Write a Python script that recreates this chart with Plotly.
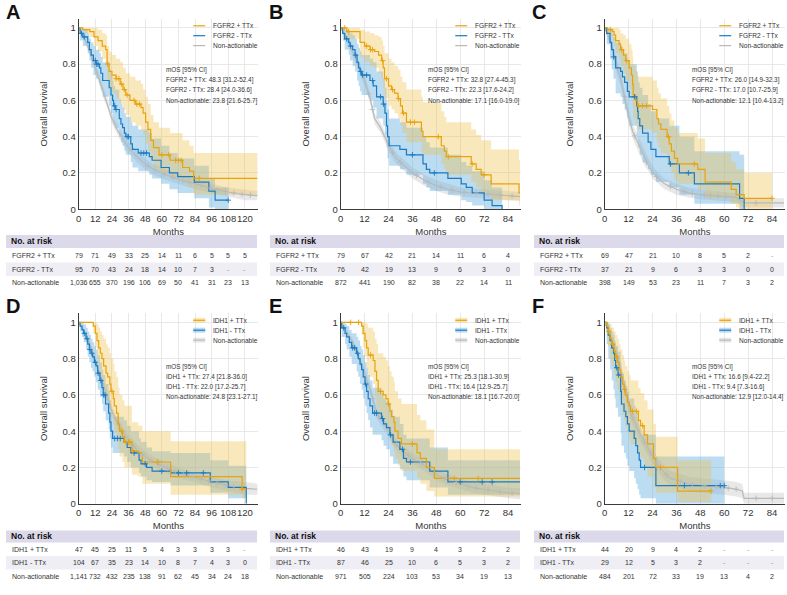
import numpy as np
import plotly.graph_objects as go

FONT = "Liberation Sans, Arial, Helvetica, sans-serif"
W, H = 787, 595

# ---------------- tick / risk-table months ----------------
MONTHS_LONG = [0, 12, 24, 36, 48, 60, 72, 84, 96, 108, 120]
MONTHS_SHORT = [0, 12, 24, 36, 48, 60, 72, 84]

# ---------------- Panel A (FGFR2, cohort 1) ----------------
A_POS_T = [0, 3, 8, 11, 14, 17, 19.5, 20.5, 22, 24, 27, 30, 32, 34, 37, 41, 45, 46.5, 48.3, 50, 52, 54, 58, 66, 75, 80, 83, 129]
A_POS_S = [1, .99, .98, .95, .93, .90, .88, .80, .76, .74, .72, .69, .66, .63, .60, .58, .56, .53, .48, .44, .38, .34, .30, .27, .23, .21, .17, .17]
A_POS_LO = [1, .97, .95, .90, .87, .83, .80, .71, .67, .64, .61, .58, .55, .52, .48, .46, .44, .41, .36, .32, .27, .23, .20, .17, .14, .12, .08, .08]
A_POS_HI = [1, 1, 1, 1, .99, .97, .96, .90, .87, .85, .83, .81, .78, .75, .73, .71, .69, .66, .62, .58, .52, .48, .45, .42, .38, .35, .31, .31]
A_POS_C = [21, 27, 29, 31, 33, 35, 40, 42, 44, 60, 65, 70, 72, 74, 87]

A_NEG_T = [0, 1, 3, 6.5, 7.7, 9, 10.6, 12.5, 15, 16, 17.3, 22, 23.3, 24.5, 25.2, 26.4, 29.3, 30.5, 31.7, 33, 34, 37.6, 38.8, 43, 51, 53, 59.5, 65.5, 71.5, 83.5, 94, 98.5, 108]
A_NEG_S = [1, .97, .95, .92, .88, .85, .82, .80, .78, .75, .71, .67, .63, .60, .57, .55, .50, .47, .45, .42, .40, .36, .33, .31, .29, .27, .23, .20, .18, .15, .10, .05, .05]
A_NEG_LO = [1, .93, .90, .86, .82, .78, .74, .72, .69, .66, .62, .57, .53, .50, .47, .45, .40, .37, .35, .32, .30, .26, .23, .21, .19, .17, .14, .11, .09, .06, .01, 0, 0]
A_NEG_HI = [1, 1, .99, .97, .94, .92, .90, .88, .86, .84, .81, .77, .74, .71, .68, .66, .61, .58, .56, .53, .51, .48, .46, .44, .42, .39, .35, .31, .28, .24, .17, .12, .12]
A_NEG_C = [2, 4, 12, 13, 14, 26, 27, 35, 36, 45, 47, 49, 108]

A_NA_T = [0, 3, 6, 9, 12, 15, 18, 21, 24, 27, 30, 36, 42, 48, 54, 60, 72, 84, 96, 108, 120, 129]
A_NA_S = [1, .96, .91, .85, .78, .71, .64, .58, .50, .45, .41, .34, .29, .25, .22, .20, .165, .14, .115, .095, .08, .075]
A_NA_LO = [1, .95, .89, .83, .75, .68, .61, .55, .47, .42, .38, .31, .26, .22, .19, .17, .14, .11, .09, .07, .05, .05]
A_NA_HI = [1, .97, .93, .87, .80, .74, .67, .61, .53, .48, .44, .37, .32, .28, .25, .23, .19, .17, .14, .12, .11, .10]
A_NA_C = [50, 55, 62, 68, 75, 80, 88, 95, 100, 106, 112, 118, 124]

A_RISK_POS = ["79", "71", "49", "33", "25", "14", "11", "6", "5", "5", "5"]
A_RISK_NEG = ["95", "70", "43", "24", "18", "14", "10", "7", "3", "-", "-"]
A_RISK_NA = ["1,036", "655", "370", "196", "106", "69", "50", "41", "31", "23", "13"]
A_MOS = ["mOS [95% CI]", "FGFR2 + TTx: 48.3 [31.2-52.4]", "FGFR2 - TTx: 28.4 [24.0-36.6]", "Non-actionable: 23.8 [21.6-25.7]"]

# ---------------- Panel B ----------------
B_POS_T = [0, 3, 9.7, 12, 14.7, 17, 19, 20.5, 21.3, 22, 24, 25.5, 27, 28.8, 30, 31, 33, 40.5, 41.3, 50.5, 52, 53, 65.5, 68, 70.5, 75.5, 89.5, 90]
B_POS_S = [1, .98, .92, .90, .88, .87, .85, .82, .78, .72, .68, .66, .64, .61, .57, .53, .48, .43, .40, .35, .32, .29, .25, .22, .19, .14, .09, .09]
B_POS_LO = [1, .94, .84, .81, .79, .78, .75, .72, .67, .61, .57, .55, .53, .50, .46, .42, .37, .32, .30, .25, .22, .19, .15, .12, .09, .05, .02, .02]
B_POS_HI = [1, 1, .99, .98, .97, .96, .95, .93, .90, .86, .83, .81, .79, .77, .73, .70, .66, .62, .59, .54, .51, .48, .44, .41, .38, .33, .27, .27]
B_POS_C = [2, 4, 13, 15, 16, 21, 23, 26, 29, 31.5, 35, 37, 49, 54, 66, 72]

B_NEG_T = [0, 1, 2, 4, 4.7, 6, 7.2, 8.2, 9, 9.7, 10.5, 14.7, 16.3, 18, 21.3, 22.2, 23, 23.5, 24.3, 29.7, 33, 41.3, 43, 44.7, 53.8, 60.5, 63, 66, 72, 76, 81]
B_NEG_S = [1, .97, .94, .92, .90, .88, .85, .81, .78, .76, .74, .71, .68, .62, .58, .53, .46, .40, .35, .33, .30, .25, .22, .20, .17, .14, .12, .09, .05, .02, 0]
B_NEG_LO = [1, .93, .88, .85, .82, .79, .76, .71, .68, .65, .63, .60, .56, .50, .46, .41, .34, .28, .24, .22, .19, .14, .12, .10, .08, .05, .04, .02, 0, 0, 0]
B_NEG_HI = [1, 1, .99, .98, .97, .96, .94, .91, .89, .87, .85, .83, .81, .76, .72, .67, .60, .55, .50, .48, .45, .40, .37, .34, .30, .26, .24, .21, .16, .12, .12]
B_NEG_C = [3, 5, 7.5, 10, 11, 13, 16, 20, 21.5, 36, 47]

B_NA_T = [0, 3, 6, 9, 12, 15, 17, 20, 22, 25, 28, 32, 36, 42, 48, 54, 60, 72, 84, 90]
B_NA_S = [1, .94, .87, .79, .71, .60, .50, .45, .40, .33, .28, .24, .20, .16, .13, .11, .095, .085, .075, .07]
B_NA_LO = [1, .92, .85, .76, .68, .57, .47, .42, .37, .30, .25, .21, .17, .13, .10, .08, .07, .06, .05, .045]
B_NA_HI = [1, .96, .89, .82, .74, .63, .53, .48, .43, .36, .31, .27, .23, .19, .16, .14, .12, .11, .10, .095]
B_NA_C = [14, 16, 26, 30, 38, 44, 50, 56, 62, 68, 74, 80, 86]

B_RISK_POS = ["79", "67", "42", "21", "14", "11", "6", "4"]
B_RISK_NEG = ["76", "42", "19", "13", "9", "6", "3", "0"]
B_RISK_NA = ["872", "441", "190", "82", "38", "22", "14", "11"]
B_MOS = ["mOS [95% CI]", "FGFR2 + TTx: 32.8 [27.4-45.3]", "FGFR2 - TTx: 22.3 [17.6-24.2]", "Non-actionable: 17.1 [16.0-19.0]"]

# ---------------- Panel C ----------------
C_POS_T = [0, 1.5, 3.9, 4.7, 5.5, 7.2, 8, 9.4, 10.6, 12.3, 13.4, 14, 14.3, 15.5, 16.5, 24, 26.2, 27, 28.2, 31.3, 32.4, 33.5, 35, 36.6, 46.7, 50.4, 63.5, 66, 70, 84]
C_POS_S = [1, .99, .98, .96, .93, .91, .88, .85, .82, .78, .74, .69, .63, .60, .57, .55, .50, .47, .44, .40, .36, .32, .28, .25, .22, .15, .11, .08, .06, .06]
C_POS_LO = [1, .96, .93, .90, .86, .83, .79, .75, .71, .66, .61, .56, .50, .47, .44, .42, .37, .34, .31, .27, .23, .20, .16, .14, .11, .06, .03, .01, 0, 0]
C_POS_HI = [1, 1, 1, 1, 1, .99, .97, .96, .94, .91, .88, .84, .79, .76, .73, .71, .67, .64, .61, .57, .53, .49, .45, .42, .39, .31, .26, .22, .20, .20]
C_POS_C = [3, 8.5, 11, 17, 19, 21, 32, 45, 84]

C_NEG_T = [0, 1, 2.7, 3.5, 4.4, 5.5, 8, 8.9, 10, 11.4, 12.3, 16.1, 16.5, 16.8, 17.6, 19, 21.8, 23.2, 25.7, 32.4, 37.5, 45, 67.7, 70]
C_NEG_S = [1, .97, .92, .88, .84, .78, .76, .73, .70, .65, .62, .57, .54, .50, .46, .42, .37, .33, .29, .25, .20, .14, .06, 0]
C_NEG_LO = [1, .91, .83, .77, .72, .64, .62, .58, .55, .50, .46, .41, .38, .34, .30, .26, .22, .19, .15, .12, .08, .03, 0, 0]
C_NEG_HI = [1, 1, .99, .97, .95, .92, .90, .88, .86, .82, .80, .76, .74, .70, .67, .63, .58, .54, .50, .46, .40, .32, .30, .30]
C_NEG_C = [4.5, 15, 33, 42]

C_NA_T = [0, 2, 4, 6, 8, 10, 12, 14, 16, 18, 20, 22, 24, 27, 30, 36, 42, 48, 54, 60, 66, 70, 90]
C_NA_S = [1, .95, .88, .79, .72, .62, .51, .43, .38, .33, .28, .24, .20, .17, .14, .11, .09, .08, .075, .07, .065, .035, .035]
C_NA_LO = [1, .93, .85, .75, .68, .58, .47, .39, .34, .29, .24, .21, .17, .14, .11, .08, .065, .055, .05, .045, .04, .01, .01]
C_NA_HI = [1, .97, .91, .83, .76, .66, .55, .47, .42, .37, .32, .28, .24, .20, .17, .14, .12, .11, .10, .095, .09, .06, .06]
C_NA_C = [10, 15, 21, 26, 33, 40, 44, 50, 53, 57, 61, 76]

C_RISK_POS = ["69", "47", "21", "10", "8", "5", "2", "-"]
C_RISK_NEG = ["37", "21", "9", "6", "3", "3", "0", "0"]
C_RISK_NA = ["398", "149", "53", "23", "11", "7", "3", "2"]
C_MOS = ["mOS [95% CI]", "FGFR2 + TTx: 26.0 [14.9-32.3]", "FGFR2 - TTx: 17.0 [10.7-25.9]", "Non-actionable: 12.1 [10.4-13.2]"]

# ---------------- Panel D (IDH1) ----------------
D_POS_T = [0, 10.5, 12, 13.2, 14.4, 15.6, 16.8, 18, 19.7, 20.9, 22.5, 23.3, 25, 25.7, 27.3, 28.5, 29.5, 31.6, 33, 38.4, 43, 46, 66.4, 118, 121]
D_POS_S = [1, .98, .94, .90, .86, .83, .80, .76, .72, .70, .66, .62, .58, .54, .50, .44, .40, .37, .34, .29, .28, .23, .15, .08, .08]
D_POS_LO = [1, .94, .86, .80, .75, .71, .67, .62, .58, .55, .51, .47, .43, .39, .35, .30, .26, .23, .20, .16, .15, .11, .05, .03, .03]
D_POS_HI = [1, 1, 1, .99, .97, .95, .93, .91, .88, .86, .83, .80, .77, .73, .70, .64, .60, .57, .54, .45, .43, .40, .345, .345, .345]
D_POS_C = [24, 31, 34, 36, 37, 39, 57, 118]

D_NEG_T = [0, 1, 2.4, 3.6, 5.3, 6.5, 7.7, 8.9, 10, 11.3, 12.5, 13.7, 15.3, 16.8, 17.7, 19.4, 21.6, 22.5, 23.3, 24.5, 32.8, 35, 37.6, 43.6, 45, 49, 53, 66.4, 95, 108, 121]
D_NEG_S = [1, .98, .96, .94, .91, .88, .85, .83, .81, .78, .76, .72, .68, .64, .60, .55, .50, .45, .40, .36, .34, .31, .28, .24, .22, .20, .18, .17, .12, .09, 0]
D_NEG_LO = [1, .95, .92, .89, .85, .81, .78, .75, .73, .70, .67, .63, .59, .55, .51, .46, .41, .36, .31, .28, .26, .23, .20, .17, .15, .13, .12, .10, .06, .03, .03]
D_NEG_HI = [1, 1, 1, .99, .97, .95, .93, .91, .89, .87, .85, .82, .78, .74, .71, .66, .62, .57, .52, .48, .46, .43, .40, .36, .34, .31, .29, .28, .24, .21, .21]
D_NEG_C = [4, 6, 8, 9.5, 12, 14, 16, 18, 19, 26, 28, 30, 40, 48, 60, 72, 78, 90]

D_NA_T = [0, 3, 6, 9, 12, 15, 18, 21, 24, 27, 30, 36, 42, 48, 54, 60, 72, 84, 96, 108, 120, 129]
D_NA_S = [1, .96, .92, .86, .79, .72, .64, .58, .51, .46, .42, .35, .30, .26, .23, .21, .17, .145, .12, .10, .085, .08]
D_NA_LO = [1, .95, .90, .84, .77, .69, .61, .55, .48, .43, .39, .32, .27, .23, .20, .18, .14, .12, .09, .07, .05, .05]
D_NA_HI = [1, .97, .94, .88, .81, .75, .67, .61, .54, .49, .45, .38, .33, .29, .26, .24, .20, .17, .15, .13, .12, .11]
D_NA_C = [40, 46, 52, 58, 64, 70, 76, 82, 88, 94, 100, 106, 112]

D_RISK_POS = ["47", "45", "25", "11", "5", "4", "3", "3", "3", "3", "-"]
D_RISK_NEG = ["104", "67", "35", "23", "14", "10", "8", "7", "4", "3", "0"]
D_RISK_NA = ["1,141", "732", "432", "235", "138", "91", "62", "45", "34", "24", "18"]
D_MOS = ["mOS [95% CI]", "IDH1 + TTx: 27.4 [21.8-36.0]", "IDH1 - TTx: 22.0 [17.2-25.7]", "Non-actionable: 24.8 [23.1-27.1]"]

# ---------------- Panel E ----------------
E_POS_T = [0, 10.5, 11.3, 12.2, 13, 13.8, 16.3, 17.2, 18, 18.8, 21.3, 22.7, 23.8, 24.7, 25.5, 26.7, 27.2, 28.8, 30.5, 38.3, 40, 43, 47, 90]
E_POS_S = [1, .98, .94, .90, .86, .82, .79, .73, .68, .62, .60, .58, .55, .51, .48, .45, .40, .36, .33, .28, .25, .20, .14, .14]
E_POS_LO = [1, .93, .86, .81, .75, .70, .66, .59, .53, .47, .45, .42, .39, .35, .32, .29, .25, .21, .18, .14, .11, .07, .04, .04]
E_POS_HI = [1, 1, 1, 1, .99, .97, .95, .91, .88, .83, .81, .79, .76, .73, .70, .67, .62, .58, .55, .49, .46, .41, .30, .30]
E_POS_C = [5, 9, 15, 20, 24, 36, 57, 69]

E_NEG_T = [0, 0.5, 2.2, 3, 4.3, 5.5, 8, 8.8, 9.7, 10.5, 11.3, 12.2, 13, 13.8, 14.7, 16, 20.5, 21.5, 23, 24.7, 26.3, 29.7, 31.5, 33, 44.7, 53.8, 90]
E_NEG_S = [1, .97, .94, .92, .89, .86, .83, .80, .77, .74, .70, .66, .62, .58, .54, .50, .47, .44, .42, .38, .34, .30, .25, .23, .18, .12, .12]
E_NEG_LO = [1, .92, .88, .85, .81, .77, .73, .70, .66, .63, .58, .54, .50, .46, .42, .38, .35, .32, .30, .26, .22, .19, .15, .13, .09, .05, .05]
E_NEG_HI = [1, 1, .99, .98, .96, .94, .92, .90, .87, .85, .82, .78, .75, .71, .68, .64, .61, .58, .56, .52, .48, .44, .38, .36, .31, .24, .24]
E_NEG_C = [1.5, 6, 7, 8.5, 12.5, 17, 18, 21, 25, 31, 35, 60, 71, 76]

E_NA_T = [0, 3, 6, 9, 12, 15, 18, 21, 24, 27, 30, 36, 42, 48, 54, 60, 66, 72, 78, 84, 90]
E_NA_S = [1, .95, .89, .81, .72, .62, .50, .45, .40, .34, .30, .25, .21, .16, .13, .11, .09, .08, .07, .06, .055]
E_NA_LO = [1, .94, .87, .79, .69, .59, .47, .42, .37, .31, .27, .22, .18, .13, .10, .08, .06, .05, .04, .03, .025]
E_NA_HI = [1, .96, .91, .83, .75, .65, .53, .48, .43, .37, .33, .28, .24, .19, .16, .14, .12, .11, .10, .09, .085]
E_NA_C = [16, 19, 28, 34, 40, 52, 58, 64, 68, 74, 80, 86]

E_RISK_POS = ["46", "43", "19", "9", "4", "3", "2", "2"]
E_RISK_NEG = ["87", "46", "25", "10", "6", "5", "3", "2"]
E_RISK_NA = ["971", "505", "224", "103", "53", "34", "19", "13"]
E_MOS = ["mOS [95% CI]", "IDH1 + TTx: 25.3 [18.1-30.9]", "IDH1 - TTx: 16.4 [12.9-25.7]", "Non-actionable: 18.1 [16.7-20.0]"]

# ---------------- Panel F ----------------
F_POS_T = [0, 1, 1.7, 2.7, 3.5, 4.7, 5.5, 6.4, 7.2, 8, 8.9, 9.7, 10.3, 11.4, 12.3, 13, 16.9, 18, 19.8, 21.5, 24.5, 25.7, 36.6, 53.4]
F_POS_S = [1, .98, .95, .91, .88, .84, .81, .78, .74, .70, .66, .63, .60, .56, .54, .51, .46, .43, .38, .33, .25, .20, .07, .07]
F_POS_LO = [1, .92, .87, .80, .76, .71, .67, .63, .58, .54, .49, .46, .43, .39, .36, .33, .28, .25, .20, .15, .09, .06, .01, .01]
F_POS_HI = [1, 1, 1, .99, .97, .95, .93, .91, .88, .85, .82, .79, .76, .73, .71, .68, .64, .61, .57, .52, .44, .37, .24, .24]
F_POS_C = [2, 4, 6, 10, 14, 16, 19, 28, 53.4]

F_NEG_T = [0, 1, 1.8, 2.7, 3.5, 4.4, 5, 5.5, 6.7, 8, 8.4, 9.7, 10.6, 11.4, 12.3, 14.8, 15.6, 16.5, 17.3, 18, 25.7, 60]
F_NEG_S = [1, .97, .93, .90, .86, .83, .79, .75, .71, .62, .55, .51, .48, .44, .40, .36, .32, .28, .24, .20, .10, .10]
F_NEG_LO = [1, .88, .80, .74, .68, .63, .58, .53, .48, .39, .32, .28, .25, .21, .18, .14, .11, .08, .05, .03, 0, 0]
F_NEG_HI = [1, 1, .99, .97, .95, .93, .90, .87, .84, .78, .72, .68, .65, .62, .58, .54, .50, .46, .42, .38, .26, .26]
F_NEG_C = [6, 7, 20, 40, 58, 60]

F_NA_T = [0, 2, 4, 6, 8, 10, 12, 13, 15, 18, 21, 24, 27, 30, 33, 36, 42, 48, 54, 60, 66, 69, 70, 90]
F_NA_S = [1, .95, .89, .82, .74, .65, .55, .50, .45, .38, .32, .26, .21, .17, .14, .13, .11, .10, .095, .09, .08, .07, .03, .03]
F_NA_LO = [1, .93, .86, .78, .70, .61, .51, .46, .41, .34, .28, .22, .17, .13, .10, .09, .07, .06, .055, .05, .04, .03, 0, 0]
F_NA_HI = [1, .97, .92, .86, .78, .69, .59, .54, .49, .42, .36, .30, .25, .21, .18, .17, .15, .14, .135, .13, .12, .11, .06, .06]
F_NA_C = [14, 20, 23, 26, 31, 38, 44, 50, 56, 62, 66, 76, 84]

F_RISK_POS = ["44", "20", "9", "4", "2", "-", "-", "-"]
F_RISK_NEG = ["29", "12", "5", "3", "2", "-", "-", "-"]
F_RISK_NA = ["484", "201", "72", "33", "19", "13", "4", "2"]
F_MOS = ["mOS [95% CI]", "IDH1 + TTx: 16.6 [9.4-22.2]", "IDH1 - TTx: 9.4 [7.3-16.6]", "Non-actionable: 12.9 [12.0-14.4]"]

FGFR_LABELS = ["FGFR2 + TTx", "FGFR2 - TTx", "Non-actionable"]
IDH_LABELS = ["IDH1 + TTx", "IDH1 - TTx", "Non-actionable"]
PANEL_LETTERS = ["A", "B", "C", "D", "E", "F"]

# ---------------- styling ----------------
ORANGE = "#E8A20C"
BLUE = "#1A7BC2"
GRAY = "#B9B9B9"
ORANGE_FILL = "rgba(242,190,72,0.36)"
BLUE_FILL = "rgba(96,172,224,0.42)"
GRAY_FILL = "rgba(180,180,180,0.30)"
TXT = "#333333"
GRID = "#E8E8E8"

PL = [76, 339, 604]
PR = [256, 520, 785]
PT = [19, 316]
PB = [211, 508]
ROW_OFF = [0, 297]

panels = [
    dict(xmax=129.5, months=MONTHS_LONG, labels=FGFR_LABELS, mos=A_MOS, band_legend=False,
         curves=[(A_NA_T, A_NA_S, A_NA_LO, A_NA_HI, A_NA_C), (A_NEG_T, A_NEG_S, A_NEG_LO, A_NEG_HI, A_NEG_C), (A_POS_T, A_POS_S, A_POS_LO, A_POS_HI, A_POS_C)],
         risk=[A_RISK_POS, A_RISK_NEG, A_RISK_NA]),
    dict(xmax=90.5, months=MONTHS_SHORT, labels=FGFR_LABELS, mos=B_MOS, band_legend=False,
         curves=[(B_NA_T, B_NA_S, B_NA_LO, B_NA_HI, B_NA_C), (B_NEG_T, B_NEG_S, B_NEG_LO, B_NEG_HI, B_NEG_C), (B_POS_T, B_POS_S, B_POS_LO, B_POS_HI, B_POS_C)],
         risk=[B_RISK_POS, B_RISK_NEG, B_RISK_NA]),
    dict(xmax=90.5, months=MONTHS_SHORT, labels=FGFR_LABELS, mos=C_MOS, band_legend=False,
         curves=[(C_NA_T, C_NA_S, C_NA_LO, C_NA_HI, C_NA_C), (C_NEG_T, C_NEG_S, C_NEG_LO, C_NEG_HI, C_NEG_C), (C_POS_T, C_POS_S, C_POS_LO, C_POS_HI, C_POS_C)],
         risk=[C_RISK_POS, C_RISK_NEG, C_RISK_NA]),
    dict(xmax=129.5, months=MONTHS_LONG, labels=IDH_LABELS, mos=D_MOS, band_legend=True,
         curves=[(D_NA_T, D_NA_S, D_NA_LO, D_NA_HI, D_NA_C), (D_NEG_T, D_NEG_S, D_NEG_LO, D_NEG_HI, D_NEG_C), (D_POS_T, D_POS_S, D_POS_LO, D_POS_HI, D_POS_C)],
         risk=[D_RISK_POS, D_RISK_NEG, D_RISK_NA]),
    dict(xmax=90.5, months=MONTHS_SHORT, labels=IDH_LABELS, mos=E_MOS, band_legend=True,
         curves=[(E_NA_T, E_NA_S, E_NA_LO, E_NA_HI, E_NA_C), (E_NEG_T, E_NEG_S, E_NEG_LO, E_NEG_HI, E_NEG_C), (E_POS_T, E_POS_S, E_POS_LO, E_POS_HI, E_POS_C)],
         risk=[E_RISK_POS, E_RISK_NEG, E_RISK_NA]),
    dict(xmax=90.5, months=MONTHS_SHORT, labels=IDH_LABELS, mos=F_MOS, band_legend=True,
         curves=[(F_NA_T, F_NA_S, F_NA_LO, F_NA_HI, F_NA_C), (F_NEG_T, F_NEG_S, F_NEG_LO, F_NEG_HI, F_NEG_C), (F_POS_T, F_POS_S, F_POS_LO, F_POS_HI, F_POS_C)],
         risk=[F_RISK_POS, F_RISK_NEG, F_RISK_NA]),
]

# order of curves inside each panel: gray, blue, orange
LINE_COLORS = [GRAY, BLUE, ORANGE]
FILL_COLORS = [GRAY_FILL, BLUE_FILL, ORANGE_FILL]
SHAPES_LINE = ["linear", "hv", "hv"]
LEGEND_ORDER = [2, 1, 0]  # legend rows: +TTx, -TTx, non-actionable


def px(x):
    return x / W


def py(y):
    return 1 - y / H


def value_at(t, s, q, shape):
    t = np.asarray(t, float)
    s = np.asarray(s, float)
    if shape == "linear":
        return np.interp(q, t, s)
    idx = np.searchsorted(t, q, side="right") - 1
    idx = np.clip(idx, 0, len(s) - 1)
    return s[idx]


fig = go.Figure()
layout_axes = {}
annotations = []
shapes = []

for i, p in enumerate(panels):
    r, c = divmod(i, 3)
    off = ROW_OFF[r]
    n = "" if i == 0 else str(i + 1)
    xa, ya = "x" + n, "y" + n

    layout_axes["xaxis" + n] = dict(
        domain=[px(PL[c]), px(PR[c])], range=[0, p["xmax"]], anchor=ya,
        tickmode="array", tickvals=p["months"], ticks="", tickangle=0, showline=True,
        linecolor="#3a3a3a", linewidth=1, showgrid=True, gridcolor=GRID, gridwidth=1,
        zeroline=False, tickfont=dict(size=9.5, color=TXT, family=FONT),
        title=dict(text="Months", font=dict(size=9.5, color=TXT, family=FONT), standoff=5),
    )
    layout_axes["yaxis" + n] = dict(
        domain=[py(PB[r]), py(PT[r])], range=[0, 1.05], anchor=xa,
        tickmode="array", tickvals=[0, 0.2, 0.4, 0.6, 0.8, 1],
        ticktext=["0", "0.2", "0.4", "0.6", "0.8", "1"], ticks="", showline=True,
        linecolor="#3a3a3a", linewidth=1, showgrid=True, gridcolor=GRID, gridwidth=1,
        zeroline=False, tickfont=dict(size=9.5, color=TXT, family=FONT),
        title=dict(text="Overall survival", font=dict(size=9.5, color=TXT, family=FONT), standoff=13),
    )

    # confidence bands
    for k, (t, s, lo, hi, cens) in enumerate(p["curves"]):
        fig.add_trace(go.Scatter(x=t, y=lo, mode="lines", line=dict(width=0, shape=SHAPES_LINE[k]),
                                 xaxis=xa, yaxis=ya, showlegend=False, hoverinfo="skip"))
        fig.add_trace(go.Scatter(x=t, y=hi, mode="lines", line=dict(width=0, shape=SHAPES_LINE[k]),
                                 fill="tonexty", fillcolor=FILL_COLORS[k],
                                 xaxis=xa, yaxis=ya, showlegend=False, hoverinfo="skip"))
    # survival lines
    for k, (t, s, lo, hi, cens) in enumerate(p["curves"]):
        fig.add_trace(go.Scatter(x=t, y=s, mode="lines",
                                 line=dict(color=LINE_COLORS[k], width=1.2, shape=SHAPES_LINE[k]),
                                 name=p["labels"][2 - k], xaxis=xa, yaxis=ya, showlegend=False))
    # censor marks
    for k, (t, s, lo, hi, cens) in enumerate(p["curves"]):
        fig.add_trace(go.Scatter(x=cens, y=value_at(t, s, cens, SHAPES_LINE[k]), mode="markers",
                                 marker=dict(symbol="cross-thin", size=4,
                                             line=dict(color=LINE_COLORS[k], width=0.9)),
                                 xaxis=xa, yaxis=ya, showlegend=False, hoverinfo="skip"))

    # panel letter
    annotations.append(dict(x=px([1, 265, 529][c]), y=py(12 + off), xref="paper", yref="paper",
                            text="<b>%s</b>" % PANEL_LETTERS[i], showarrow=False,
                            xanchor="left", yanchor="middle",
                            font=dict(size=20, color="#111111", family=FONT)))

    # legend (manual, compact)
    for row, k in enumerate(LEGEND_ORDER):
        yc = [26, 36, 46][row] + off
        x0, x1 = PL[c] + 115, PL[c] + 127
        if p["band_legend"]:
            shapes.append(dict(type="rect", xref="paper", yref="paper",
                               x0=px(x0), x1=px(x1), y0=py(yc + 2.5), y1=py(yc - 2.5),
                               fillcolor=FILL_COLORS[k], line=dict(width=0)))
        shapes.append(dict(type="line", xref="paper", yref="paper",
                           x0=px(x0), x1=px(x1), y0=py(yc), y1=py(yc),
                           line=dict(color=LINE_COLORS[k], width=1.2)))
        annotations.append(dict(x=px(PL[c] + 133), y=py(yc), xref="paper", yref="paper",
                                text=p["labels"][row], showarrow=False, xanchor="left",
                                yanchor="middle", font=dict(size=6.6, color=TXT, family=FONT)))

    # median OS text
    mos_y = [[71, 81, 91, 101.5], [370, 380, 390, 400]][r]
    for j, line in enumerate(p["mos"]):
        annotations.append(dict(x=px(PL[c] + 86), y=py(mos_y[j]), xref="paper", yref="paper",
                                text=line, showarrow=False, xanchor="left", yanchor="middle",
                                font=dict(size=6.4, color=TXT, family=FONT)))

    # risk table
    tl = [3, 268, 533][c]
    tr = PR[c] - 1
    hb = [(237, 250), (535, 547)][r]
    rows_y = [[258, 271.5, 285], [554, 567.5, 581]][r]
    shapes.append(dict(type="rect", xref="paper", yref="paper", x0=px(tl), x1=px(tr),
                       y0=py(hb[1]), y1=py(hb[0]), fillcolor="#DCDAEA", line=dict(width=0), layer="below"))
    shapes.append(dict(type="rect", xref="paper", yref="paper", x0=px(tl), x1=px(tr),
                       y0=py(rows_y[1] + 6.8), y1=py(rows_y[1] - 6.8), fillcolor="#EFEEF4",
                       line=dict(width=0), layer="below"))
    annotations.append(dict(x=px(tl + 3), y=py((hb[0] + hb[1]) / 2), xref="paper", yref="paper",
                            text="<b>No. at risk</b>", showarrow=False, xanchor="left", yanchor="middle",
                            font=dict(size=8.5, color="#111111", family=FONT)))
    for j, vals in enumerate(p["risk"]):
        annotations.append(dict(x=px(tl + 4), y=py(rows_y[j]), xref="paper", yref="paper",
                                text=p["labels"][j], showarrow=False, xanchor="left", yanchor="middle",
                                font=dict(size=7, color=TXT, family=FONT)))
        for m, v in zip(p["months"], vals):
            annotations.append(dict(x=m, y=py(rows_y[j]), xref=xa, yref="paper", text=v,
                                    showarrow=False, xanchor="center", yanchor="middle",
                                    font=dict(size=7, color=TXT if v != "-" else "#999999", family=FONT)))

fig.update_layout(
    width=W, height=H, margin=dict(l=0, r=0, t=0, b=0),
    paper_bgcolor="white", plot_bgcolor="white",
    font=dict(family=FONT, color=TXT),
    showlegend=False, annotations=annotations, shapes=shapes,
    **layout_axes,
)

fig.write_html("out.html")
